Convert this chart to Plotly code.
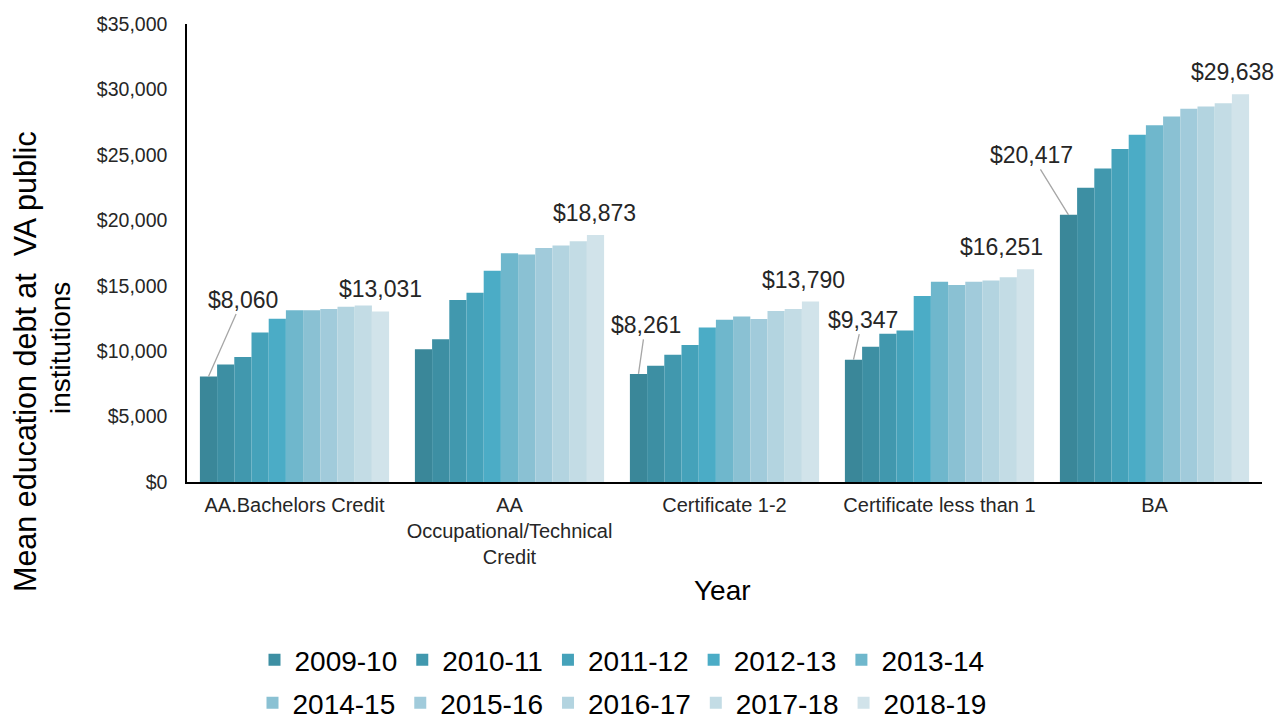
import plotly.graph_objects as go

categories = ["AA.Bachelors Credit", "AA<br>Occupational/Technical<br>Credit",
              "Certificate 1-2", "Certificate less than 1", "BA"]

years = ["2008-09", "2009-10", "2010-11", "2011-12", "2012-13", "2013-14",
         "2014-15", "2015-16", "2016-17", "2017-18", "2018-19"]

# values per year, in category order
v_2008_09 = [8060, 10150, 8261, 9347, 20417]
v_2009_10 = [8970, 10910, 8890, 10340, 22480]
v_2010_11 = [9560, 13910, 9730, 11320, 23950]
v_2011_12 = [11420, 14470, 10470, 11570, 25440]
v_2012_13 = [12470, 16150, 11800, 14220, 26530]
v_2013_14 = [13130, 17480, 12390, 15310, 27270]
v_2014_15 = [13130, 17380, 12640, 15060, 27930]
v_2015_16 = [13230, 17890, 12460, 15310, 28520]
v_2016_17 = [13400, 18070, 13070, 15390, 28690]
v_2017_18 = [13480, 18400, 13230, 15650, 28950]
v_2018_19 = [13031, 18873, 13790, 16251, 29638]

values = [v_2008_09, v_2009_10, v_2010_11, v_2011_12, v_2012_13, v_2013_14,
          v_2014_15, v_2015_16, v_2016_17, v_2017_18, v_2018_19]

y_tickvals = [0, 5000, 10000, 15000, 20000, 25000, 30000, 35000]
y_ticktext = ["$0", "$5,000", "$10,000", "$15,000", "$20,000", "$25,000", "$30,000", "$35,000"]

colors = ["#3A8799", "#3D8FA3", "#4198AE", "#45A2BA", "#4BACC6", "#6FB7CC",
          "#8AC1D3", "#A1CBDB", "#B3D4E0", "#C3DCE5", "#D1E3EA"]

FONT = "Liberation Sans, Arial, sans-serif"
TXT = "#262626"

fig = go.Figure()
for k, (yr, vals) in enumerate(zip(years, values)):
    if k == 0:
        leg, show = "legend", False
    elif k <= 5:
        leg, show = "legend", True
    else:
        leg, show = "legend2", True
    fig.add_trace(go.Bar(
        x=categories, y=vals, name=yr, marker=dict(color=colors[k], line=dict(width=0)),
        showlegend=show, legend=leg,
    ))

nser = len(years)
bargap = 0.12
bw = (1 - bargap) / nser
first_off = -0.5 + bargap / 2 + bw * 0.5
last_off = -0.5 + bargap / 2 + bw * (nser - 0.5)

annotations = []
# first-bar labels with leader lines
first_label_offsets = {0: (34, -77), 2: (7, -49), 3: (9, -40), 4: (-37, -60)}
for i, (ax, ay) in first_label_offsets.items():
    annotations.append(dict(
        x=i + first_off, y=values[0][i], xref="x", yref="y",
        text=f"${values[0][i]:,}", showarrow=True, arrowhead=0, arrowwidth=1.3,
        arrowcolor="#A6A6A6", standoff=0, ax=ax, ay=ay,
        font=dict(family=FONT, size=23, color=TXT),
    ))
# last-bar labels
last_xshift = [0, -1, -7, -24, -8]
for i in range(len(categories)):
    annotations.append(dict(
        x=i + last_off, y=values[-1][i], xref="x", yref="y",
        text=f"${values[-1][i]:,}", showarrow=False, yanchor="middle",
        xshift=last_xshift[i], yshift=22,
        font=dict(family=FONT, size=23, color=TXT),
    ))

# axis titles (positions relative to the plot area: 1075 x 458 px)
annotations.append(dict(
    x=(25 - 187) / 1075, y=(482 - 362) / 458, xref="paper", yref="paper",
    text="Mean education debt at  VA public", textangle=-90, showarrow=False,
    xanchor="center", yanchor="middle", font=dict(family=FONT, size=30.5, color="#000000"),
))
annotations.append(dict(
    x=(60 - 187) / 1075, y=(482 - 348) / 458, xref="paper", yref="paper",
    text="institutions", textangle=-90, showarrow=False,
    xanchor="center", yanchor="middle", font=dict(family=FONT, size=28, color="#000000"),
))
annotations.append(dict(
    x=(722 - 187) / 1075, y=(482 - 590) / 458, xref="paper", yref="paper",
    text="Year", showarrow=False, xanchor="center", yanchor="middle",
    font=dict(family=FONT, size=28, color="#000000"),
))

legend_common = dict(orientation="h", xanchor="center", yanchor="middle",
                     font=dict(family=FONT, size=28, color="#000000"),
                     bgcolor="rgba(0,0,0,0)", traceorder="normal")

# the page body adds an 8 px offset, so the figure is drawn 8 px smaller
fig.update_layout(
    width=1275, height=713,
    margin=dict(l=179, r=21, t=16, b=239, autoexpand=False),
    plot_bgcolor="white", paper_bgcolor="white",
    barmode="group", bargap=bargap, bargroupgap=0,
    font=dict(family=FONT, color=TXT),
    xaxis=dict(showline=True, linecolor="#000000", linewidth=2, showgrid=False,
               ticks="", tickfont=dict(family=FONT, size=20, color=TXT),
               ticklabelstandoff=4, range=[-0.5, 4.5]),
    yaxis=dict(showline=True, linecolor="#000000", linewidth=1.5, showgrid=False,
               zeroline=False, range=[0, 35000], tickvals=y_tickvals, ticktext=y_ticktext,
               ticks="", tickfont=dict(family=FONT, size=19.5, color=TXT), ticklabelstandoff=14),
    legend=dict(x=(622 - 187) / 1075, y=(482 - 660) / 458, **legend_common),
    legend2=dict(x=(622 - 187) / 1075, y=(482 - 703) / 458, **legend_common),
    annotations=annotations,
    showlegend=True,
)

fig.write_html("out.html")
